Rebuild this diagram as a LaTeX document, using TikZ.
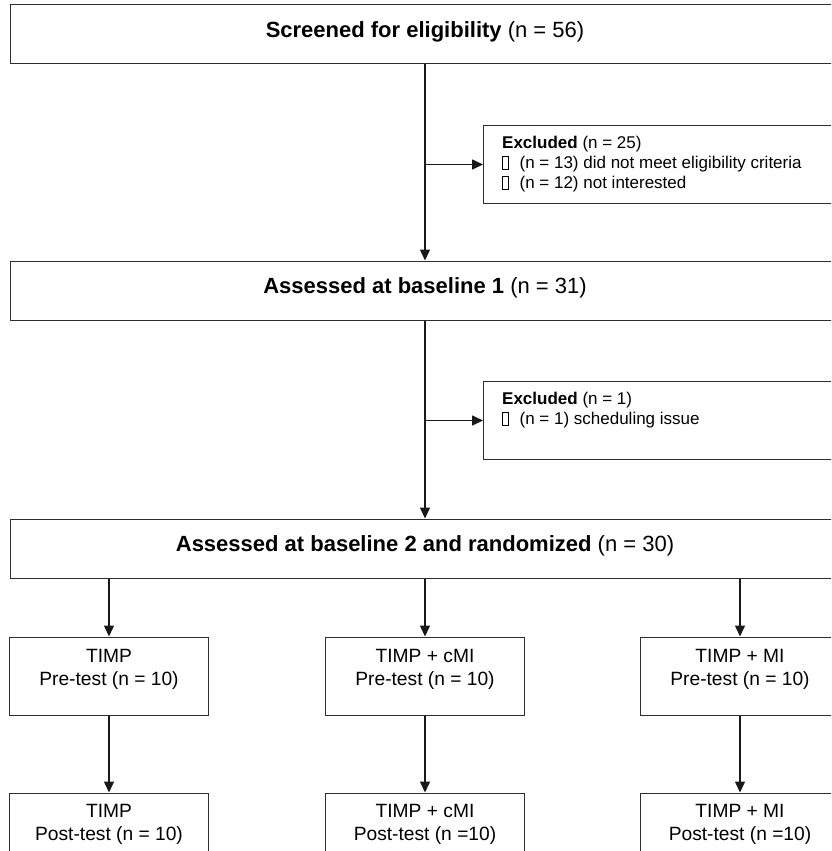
\documentclass[tikz,border=0pt]{standalone}
\usepackage{fontspec}
\setmainfont{Liberation Sans}
\usetikzlibrary{arrows.meta,calc}
\newcommand\tofubox{\raisebox{0pt}{\setlength{\fboxsep}{0pt}\setlength{\fboxrule}{0.7pt}\fbox{\rule{0pt}{12pt}\hspace{5pt}}}\hspace{11pt}}
\begin{document}
\begin{tikzpicture}[x=1pt,y=1pt,
  box/.style={draw=black!82, line width=1pt, rectangle, inner sep=0pt},
  bigbox/.style={box, minimum width=832pt, minimum height=59pt},
  headtext/.style={inner sep=0pt, anchor=base, font=\fontsize{22}{24}\selectfont},
  smallbox/.style={box, minimum width=199pt, minimum height=78pt},
  smalltext/.style={inner sep=0pt, anchor=north, align=center, font=\fontsize{19.2}{22.5}\selectfont},
  exbox/.style={box, anchor=north west, minimum width=380pt, minimum height=78pt},
  extext/.style={anchor=north west, align=left, inner sep=0pt, font=\fontsize{17}{20}\selectfont},
  arr/.style={line width=1.5pt, draw=black!90, -{Triangle[length=11pt,width=10pt]}}]
\useasboundingbox (0,0) rectangle (831,-851);
\clip (0,0) rectangle (831,-851);
% main boxes
\node[bigbox] (b1) at (426,-34.5) {};
\node[headtext] (b1t) at ($(b1.north)+(-1,-33)$) {\textbf{Screened for eligibility} (n = 56)};
\node[bigbox] (b2) at (426,-290.5) {};
\node[headtext] (b2t) at ($(b2.north)+(-1,-33)$) {\textbf{Assessed at baseline 1} (n = 31)};
\node[bigbox] (b3) at (426,-548.5) {};
\node[headtext] (b3t) at ($(b3.north)+(-1,-33)$) {\textbf{Assessed at baseline 2 and randomized} (n = 30)};
% exclusion boxes
\node[exbox] (ex1) at (483,-125) {};
\node[extext] (ex1t) at ($(ex1.north west)+(19,-11)$) {\textbf{Excluded} (n = 25)\\\tofubox(n = 13) did not meet eligibility criteria\\\tofubox(n = 12) not interested};
\node[exbox] (ex2) at (483,-381) {};
\node[extext] (ex2t) at ($(ex2.north west)+(19,-11)$) {\textbf{Excluded} (n = 1)\\\tofubox(n = 1) scheduling issue};
% arm boxes
\node[smallbox] (t1) at (109,-676) {};
\node[smallbox] (t2) at (425,-676) {};
\node[smallbox] (t3) at (740,-676) {};
\node[smallbox] (p1) at (109,-832) {};
\node[smallbox] (p2) at (425,-832) {};
\node[smallbox] (p3) at (740,-832) {};
\node[smalltext] (t1t) at ($(t1.north)+(0,-13)$) {TIMP\\Pre-test (n = 10)};
\node[smalltext] (t2t) at ($(t2.north)+(0,-13)$) {TIMP + cMI\\Pre-test (n = 10)};
\node[smalltext] (t3t) at ($(t3.north)+(0,-13)$) {TIMP + MI\\Pre-test (n = 10)};
\node[smalltext] (p1t) at ($(p1.north)+(0,-12)$) {TIMP\\Post-test (n = 10)};
\node[smalltext] (p2t) at ($(p2.north)+(0,-12)$) {TIMP + cMI\\Post-test (n =10)};
\node[smalltext] (p3t) at ($(p3.north)+(0,-12)$) {TIMP + MI\\Post-test (n =10)};
% connectors
\draw[arr] (b1.south -| t2.north) -- (b2.north -| t2.north);
\draw[arr] (ex1.west -| t2.north) -- (ex1.west);
\draw[arr] (b2.south -| t2.north) -- (b3.north -| t2.north);
\draw[arr] (ex2.west -| t2.north) -- (ex2.west);
\draw[arr] (b3.south -| t1.north) -- (t1.north);
\draw[arr] (b3.south -| t2.north) -- (t2.north);
\draw[arr] (b3.south -| t3.north) -- (t3.north);
\draw[arr] (t1.south) -- (p1.north);
\draw[arr] (t2.south) -- (p2.north);
\draw[arr] (t3.south) -- (p3.north);
\end{tikzpicture}
\end{document}
